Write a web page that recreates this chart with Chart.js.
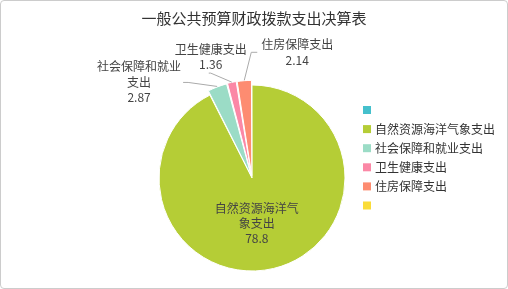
<!DOCTYPE html>
<html>
<head>
<meta charset="utf-8">
<script src="https://cdn.jsdelivr.net/npm/chart.js@4"></script>
<style>
  html, body { margin: 0; padding: 0; background: #fff; }
  #wrap { position: relative; width: 508px; height: 289px; }
  #marco { position: absolute; left: 0; top: 0; width: 508px; height: 289px; box-sizing: border-box;
           border: 1px solid #ccc; border-radius: 4px; pointer-events: none; }
</style>
</head>
<body>
<div id="wrap">
  <canvas id="grafico" width="508" height="289"></canvas>
  <div id="marco"></div>
</div>
<script>
// Datos del gráfico
const titulo = "一般公共预算财政拨款支出决算表";
const categorias = ["", "自然资源海洋气象支出", "社会保障和就业支出", "卫生健康支出", "住房保障支出", ""];
const valores = [0, 78.8, 2.87, 1.36, 2.14, 0];
// Texto de las etiquetas (partido en líneas como en la imagen)
const etiquetas = [[], ["自然资源海洋气", "象支出"], ["社会保障和就业", "支出"], ["卫生健康支出"], ["住房保障支出"], []];

const colores = ["#45c0cc", "#b5cd36", "#9bdcc6", "#fb88a6", "#fd8c71", "#fadc38"];
const fuente = "'Noto Sans CJK SC', 'Noto Sans', sans-serif";

// Posición de las líneas guía de las etiquetas exteriores (relativa al borde del sector)
const guias = {
  2: { codo: [-29, -4], fin: -5, texto: "izq" },
  3: { codo: [-21, -9], fin: -2, texto: "arriba" },
  4: { codo: [7, -28], fin: 6, texto: "der" }
};

// Plugin: título, leyenda y etiquetas
const dibujo = {
  id: "dibujo",
  afterDatasetsDraw(chart) {
    const ctx = chart.ctx;
    const meta = chart.getDatasetMeta(0);
    ctx.save();

    // Título
    ctx.fillStyle = "#333";
    ctx.font = "15px " + fuente;
    ctx.textAlign = "center";
    ctx.textBaseline = "middle";
    ctx.fillText(titulo, 254, 18);

    // Leyenda
    ctx.font = "12px " + fuente;
    ctx.textAlign = "left";
    categorias.forEach((cat, i) => {
      const y = 110 + i * 19.1;
      ctx.fillStyle = colores[i];
      ctx.fillRect(363, y - 4, 8, 8);
      ctx.fillStyle = "#333";
      ctx.fillText(cat, 375, y);
    });

    // Etiquetas
    meta.data.forEach((arc, i) => {
      if (!valores[i]) return;
      const p = arc.getProps(["x", "y", "startAngle", "endAngle", "outerRadius"], true);
      const medio = (p.startAngle + p.endAngle) / 2;
      const lineas = etiquetas[i].concat([String(valores[i])]);
      ctx.font = "12px " + fuente;
      ctx.fillStyle = "#444";
      ctx.textBaseline = "middle";
      const g = guias[i];
      if (!g) {
        // etiqueta interior
        const r = p.outerRadius * 0.5;
        const cx = p.x + Math.cos(medio) * r - 6;
        const cy = p.y + Math.sin(medio) * r;
        ctx.textAlign = "center";
        lineas.forEach((t, k) => ctx.fillText(t, cx, cy + (k - (lineas.length - 1) / 2) * 15));
        return;
      }
      const r0 = p.outerRadius + 5;
      const x0 = p.x + Math.cos(medio) * r0;
      const y0 = p.y + Math.sin(medio) * r0;
      const x1 = x0 + g.codo[0];
      const y1 = y0 + g.codo[1];
      const x2 = x1 + g.fin;
      ctx.strokeStyle = "#aaa";
      ctx.lineWidth = 1;
      ctx.beginPath();
      ctx.moveTo(x0, y0);
      ctx.lineTo(x1, y1);
      ctx.lineTo(x2, y1);
      ctx.stroke();
      const ancho = Math.max(...lineas.map(t => ctx.measureText(t).width));
      let cx, cy;
      if (g.texto === "izq") { cx = x2 - 2 - ancho / 2; cy = y1; }
      else if (g.texto === "der") { cx = x2 + 4 + ancho / 2; cy = y1; }
      else { cx = x2 + 2; cy = y1 - 16; }
      ctx.textAlign = "center";
      lineas.forEach((t, k) => ctx.fillText(t, cx, cy + (k - (lineas.length - 1) / 2) * 15.5));
    });
    ctx.restore();
  }
};

new Chart(document.getElementById("grafico"), {
  type: "pie",
  data: {
    labels: categorias,
    datasets: [{
      data: valores,
      backgroundColor: colores,
      borderColor: "#fff",
      borderWidth: (c) => (valores[c.dataIndex] ? 1 : 0),
      offset: (c) => ([2, 3, 4].includes(c.dataIndex) ? 10 : 0),
      hoverOffset: 0
    }]
  },
  options: {
    responsive: false,
    animation: false,
    radius: 93,
    layout: { padding: { left: 0, right: 4, top: 67, bottom: 0 } },
    plugins: {
      legend: { display: false },
      title: { display: false },
      tooltip: { enabled: false }
    },
    events: []
  },
  plugins: [dibujo]
});
</script>
</body>
</html>
